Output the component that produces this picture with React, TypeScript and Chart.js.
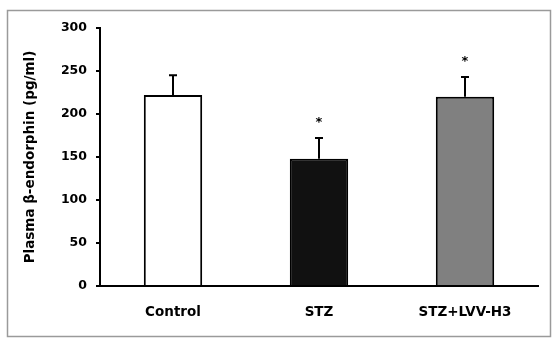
import React, { useEffect, useRef } from "react";
import { Chart, registerables } from "chart.js";

Chart.register(...registerables);

const categories = ["Control", "STZ", "STZ+LVV-H3"];
const means = [222, 148, 220];
const errors = [23, 24, 23];
const significant = [false, true, true];
const barColors = ["#ffffff", "#111111", "#808080"];
const yTicks = [0, 50, 100, 150, 200, 250, 300];
const yTitle = "Plasma β-endorphin (pg/ml)";

const FONT = "'DejaVu Sans', 'Liberation Sans', Arial, sans-serif";

const extrasPlugin = {
  id: "extras",
  beforeDraw(chart: any) {
    const ctx = chart.ctx;
    ctx.save();
    ctx.fillStyle = "#ffffff";
    ctx.fillRect(0, 0, chart.width, chart.height);
    ctx.strokeStyle = "#9a9a9a";
    ctx.lineWidth = 1.5;
    ctx.strokeRect(7.5, 10.5, 543, 326);
    ctx.restore();
  },
  afterDatasetsDraw(chart: any) {
    const ctx = chart.ctx;
    const meta = chart.getDatasetMeta(0);
    const yScale = chart.scales.y;
    ctx.save();
    ctx.strokeStyle = "#000";
    ctx.fillStyle = "#000";
    ctx.lineWidth = 2;
    meta.data.forEach((bar: any, i: number) => {
      const x = bar.x;
      const yTop = yScale.getPixelForValue(means[i]);
      const yErr = yScale.getPixelForValue(means[i] + errors[i]);
      ctx.beginPath();
      ctx.moveTo(x, yTop);
      ctx.lineTo(x, yErr);
      ctx.moveTo(x - 4, yErr);
      ctx.lineTo(x + 4, yErr);
      ctx.stroke();
      if (significant[i]) {
        ctx.font = `bold 13px ${FONT}`;
        ctx.textAlign = "center";
        ctx.textBaseline = "middle";
        ctx.fillText("*", x, yErr - 15);
      }
    });
    ctx.restore();
  },
};

export default function App() {
  const ref = useRef<HTMLCanvasElement | null>(null);
  useEffect(() => {
    if (!ref.current) return;
    const chart = new Chart(ref.current, {
      type: "bar",
      data: {
        labels: categories,
        datasets: [
          {
            data: means,
            backgroundColor: barColors,
            borderColor: "#000",
            borderWidth: 2,
            barPercentage: 0.4,
            categoryPercentage: 1,
          },
        ],
      },
      options: {
        responsive: false,
        animation: false,
        layout: { padding: { left: 0, top: 28, right: 22, bottom: 0 } },
        plugins: { legend: { display: false }, tooltip: { enabled: false } },
        scales: {
          x: {
            grid: { display: false, drawTicks: false },
            border: { display: true, color: "#000", width: 2 },
            ticks: { color: "#000", font: { family: FONT, size: 13.5, weight: "bold" }, padding: 18 },
            afterFit(scale: any) {
              scale.height = 63;
            },
          },
          y: {
            min: 0,
            max: 300,
            afterBuildTicks(scale: any) {
              scale.ticks = yTicks.map((v) => ({ value: v }));
            },
            grid: { display: true, drawOnChartArea: false, drawTicks: true, tickLength: 4, color: "#000", lineWidth: 2 },
            border: { display: true, color: "#000", width: 2 },
            ticks: { color: "#000", font: { family: FONT, size: 12.5, weight: "bold" }, padding: 9 },
            title: {
              display: true,
              text: yTitle,
              color: "#000",
              font: { family: FONT, size: 13.5, weight: "bold" },
              padding: { top: 22, bottom: 0 },
            },
            afterFit(scale: any) {
              scale.width = 100;
            },
          },
        },
      },
      plugins: [extrasPlugin],
    });
    return () => chart.destroy();
  }, []);
  return (
    <div style={{ position: "absolute", left: 0, top: 0 }}>
      <canvas ref={ref} width={560} height={349} />
    </div>
  );
}
